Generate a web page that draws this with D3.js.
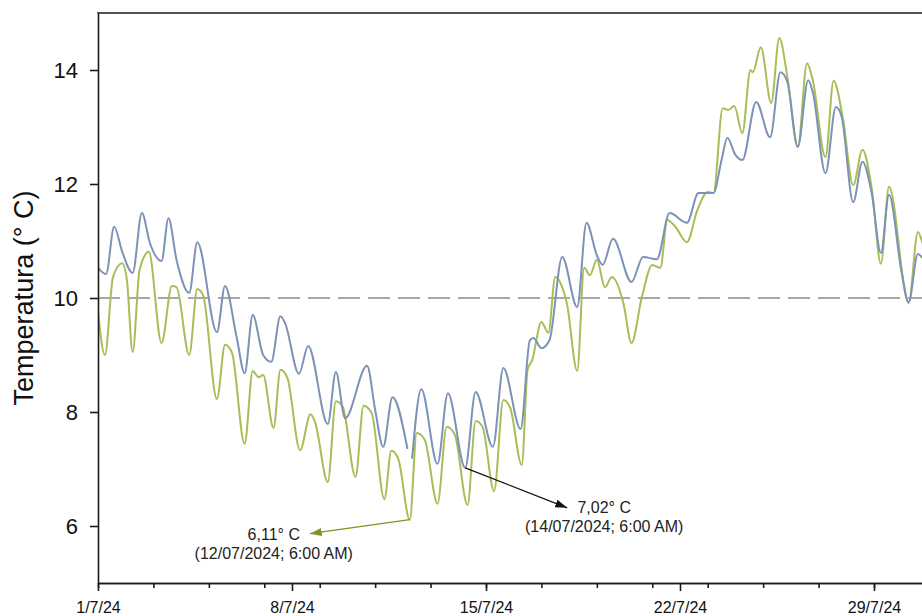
<!DOCTYPE html>
<html>
<head>
<meta charset="utf-8">
<script src="https://cdn.jsdelivr.net/npm/d3@7/dist/d3.min.js"></script>
<style>
  html, body { margin: 0; padding: 0; background: #fff; }
  svg { display: block; font-family: "Liberation Sans", Arial, sans-serif; }
</style>
</head>
<body>
<svg id="chart" width="922" height="616"></svg>
<script>
// ---------------- DATA ----------------
// hours since 1 July 2024 00:00, values in °C
const blueHours = [0, 7, 14, 21, 30, 38, 45, 55, 61, 68, 79, 86, 103, 110, 120, 127, 134, 143, 150, 158, 162, 174, 182, 199, 206, 214, 233, 240, 247, 255, 268,
  270,
  272, 280, 294, 303, 318, 327, 342, 351, 366, 374, 377, 384, 391, 402, 415, 423, 432, 437, 446, 462, 472, 484, 495, 510, 520, 533, 540, 545, 552, 558, 570, 582, 591, 597, 606, 615, 619, 630, 639, 644, 654, 662, 670, 678, 685, 696, 702, 710, 714];
const blueValues = [10.53, 10.42, 11.25, 10.81, 10.44, 11.49, 10.96, 10.65, 11.40, 10.67, 10.09, 10.98, 9.40, 10.21, 9.32, 8.68, 9.70, 9.00, 8.88, 9.68, 9.56, 8.67, 9.16, 7.79, 8.70, 7.89, 8.81, 8.04, 7.39, 8.26, 7.35,
  null,
  7.18, 8.40, 7.09, 8.33, 7.02, 8.35, 7.39, 8.77, 7.70, 9.26, 9.30, 9.12, 9.26, 10.72, 9.84, 11.32, 10.75, 10.58, 11.04, 10.28, 10.72, 10.68, 11.49, 11.32, 11.84, 11.84, 12.42, 12.81, 12.51, 12.42, 13.44, 12.82, 13.96, 13.79, 12.65, 13.82, 13.61, 12.19, 13.35, 13.18, 11.68, 12.39, 11.84, 10.79, 11.81, 10.44, 9.93, 10.77, 10.70];

const greenHours = [0, 6, 13, 21, 25, 30, 36, 44, 55, 64, 68, 79, 86, 91, 103, 110, 116, 127, 134, 139, 143, 152, 158, 164, 175, 184, 188, 199, 206, 212, 223, 230, 237, 248, 254, 260, 270, 276, 283, 294, 302, 309, 320, 327, 333, 343, 351, 357, 367, 372, 376, 384, 390, 396, 402, 406, 415, 421, 426, 432, 439, 445, 455, 462, 471, 480, 487, 493, 500, 510, 519, 528, 533, 541, 546, 551, 558, 565, 567, 574, 583, 590, 597, 606, 614, 619, 630, 637, 645, 654, 662, 670, 678, 685, 702, 710, 714];
const greenValues = [9.75, 9.00, 10.37, 10.61, 10.32, 9.05, 10.49, 10.81, 9.21, 10.21, 10.19, 9.00, 10.16, 10.05, 8.23, 9.18, 9.04, 7.44, 8.72, 8.61, 8.65, 7.72, 8.74, 8.60, 7.33, 7.96, 7.82, 6.77, 8.19, 8.09, 6.86, 8.11, 7.98, 6.47, 7.32, 7.18, 6.11, 7.63, 7.51, 6.39, 7.74, 7.60, 6.37, 7.84, 7.74, 6.61, 8.21, 8.07, 7.07, 8.74, 8.91, 9.58, 9.39, 10.37, 10.19, 9.91, 8.72, 10.53, 10.40, 10.67, 10.19, 10.37, 9.91, 9.21, 10.02, 10.58, 10.53, 11.37, 11.25, 10.98, 11.54, 11.86, 11.84, 13.33, 13.30, 13.37, 12.89, 14.00, 13.96, 14.40, 13.42, 14.56, 13.88, 12.65, 14.12, 13.82, 12.47, 13.81, 13.16, 11.98, 12.60, 11.93, 10.60, 11.95, 9.91, 11.16, 10.96];

const majorTickDays = [1, 8, 15, 22, 29];
const minorTickDays = [1, 3, 5, 7, 9, 11, 13, 15, 17, 19, 21, 23, 25, 27, 29, 31];
const yTickValues = [6, 8, 10, 12, 14];
const referenceValue = 10;
const yTitle = "Temperatura (° C)";

const annotHours = [270, 318];
const annotValues = [6.11, 7.02];
const annotLine1 = ["6,11° C", "7,02° C"];
const annotLine2 = ["(12/07/2024; 6:00 AM)", "(14/07/2024; 6:00 AM)"];

// ---------------- LAYOUT ----------------
(function () {
const W = 922, H = 616;
const pL = 98, pT = 13, pB = 583;
const dayPx = 27.714;
const start = new Date(2024, 6, 1);
const end = new Date(2024, 7, 1);
const toDate = h => d3.timeHour.offset(start, h);

const svg = d3.select("#chart");
const x = d3.scaleTime().domain([start, end]).range([pL, pL + 31 * dayPx]);
const y = d3.scaleLinear().domain([5, 15]).range([pB, pT]);

const axisColor = "#1a1a1a";
const defs = svg.append("defs");
defs.append("clipPath").attr("id", "plotclip")
  .append("rect").attr("x", pL).attr("y", pT).attr("width", W - pL).attr("height", pB - pT);

// reference dashed line
svg.append("line")
  .attr("x1", pL).attr("x2", W)
  .attr("y1", y(referenceValue)).attr("y2", y(referenceValue))
  .attr("stroke", "#8a8a8a").attr("stroke-width", 1.6)
  .attr("stroke-dasharray", "22,8");

// series
function series(hours, values) {
  return hours.map((h, i) => ({ t: toDate(h), v: values[i] }));
}
const line = d3.line()
  .defined(d => d.v != null)
  .x(d => x(d.t)).y(d => y(d.v))
  .curve(d3.curveMonotoneX);

const g = svg.append("g").attr("clip-path", "url(#plotclip)");
g.append("path").datum(series(greenHours, greenValues))
  .attr("fill", "none").attr("stroke", "#a9bd57").attr("stroke-width", 2)
  .attr("stroke-linejoin", "round").attr("d", line);
g.append("path").datum(series(blueHours, blueValues))
  .attr("fill", "none").attr("stroke", "#7c92b6").attr("stroke-width", 2)
  .attr("stroke-linejoin", "round").attr("d", line);

// axes
const fmt = d3.timeFormat("%-d/%-m/%y");
const xMajor = d3.axisBottom(x)
  .tickValues(majorTickDays.map(d => new Date(2024, 6, d)))
  .tickFormat(fmt).tickSize(8).tickSizeOuter(0).tickPadding(11);
const xMinor = d3.axisBottom(x)
  .tickValues(minorTickDays.map(d => new Date(2024, 6, d)))
  .tickFormat("").tickSize(5).tickSizeOuter(0);

const gxMinor = svg.append("g").attr("transform", `translate(0,${pB})`).call(xMinor);
const gx = svg.append("g").attr("transform", `translate(0,${pB})`).call(xMajor);
[gx, gxMinor].forEach(a => {
  a.selectAll("path, line").attr("stroke", axisColor).attr("stroke-width", 1.6);
});
gx.selectAll("text").attr("font-size", 16).attr("fill", "#111")
  .attr("font-family", "'Liberation Sans', Arial, sans-serif");

const yAxis = d3.axisLeft(y).tickValues(yTickValues).tickSize(8).tickSizeOuter(0).tickPadding(12);
const gy = svg.append("g").attr("transform", `translate(${pL},0)`).call(yAxis);
gy.selectAll("path, line").attr("stroke", axisColor).attr("stroke-width", 1.6);
gy.selectAll("text").attr("font-size", 22).attr("fill", "#111")
  .attr("font-family", "'Liberation Sans', Arial, sans-serif");

// top frame line
svg.append("line").attr("x1", pL - 0.8).attr("x2", W)
  .attr("y1", y(15)).attr("y2", y(15))
  .attr("stroke", axisColor).attr("stroke-width", 1.6);

// y title
svg.append("text")
  .attr("transform", `translate(33,${(pT + pB) / 2}) rotate(-90)`)
  .attr("text-anchor", "middle")
  .attr("font-size", 27).attr("fill", "#111")
  .text(yTitle);

// annotations
const arrowColors = ["#86921f", "#111111"];
const arrowDx = [-100, 102], arrowDy = [14, 40];
const textDx = [-136, 139], textDy = [20, 45];
arrowColors.forEach((c, i) => {
  defs.append("marker").attr("id", "arr" + i)
    .attr("viewBox", "0 0 12 8").attr("refX", 12).attr("refY", 4)
    .attr("markerWidth", 12).attr("markerHeight", 8)
    .attr("markerUnits", "userSpaceOnUse").attr("orient", "auto")
    .append("path").attr("d", "M0,0 L12,4 L0,8 Z").attr("fill", c);
});
annotHours.forEach((h, i) => {
  const px = x(toDate(h)), py = y(annotValues[i]);
  svg.append("line")
    .attr("x1", px).attr("y1", py)
    .attr("x2", px + arrowDx[i]).attr("y2", py + arrowDy[i])
    .attr("stroke", arrowColors[i]).attr("stroke-width", 1.3)
    .attr("marker-end", `url(#arr${i})`);
  const t = svg.append("text").attr("text-anchor", "middle")
    .attr("font-size", 16).attr("fill", "#222");
  t.append("tspan").attr("x", px + textDx[i]).attr("y", py + textDy[i]).text(annotLine1[i]);
  t.append("tspan").attr("x", px + textDx[i]).attr("y", py + textDy[i] + 19).text(annotLine2[i]);
});
})();
</script>
</body>
</html>
